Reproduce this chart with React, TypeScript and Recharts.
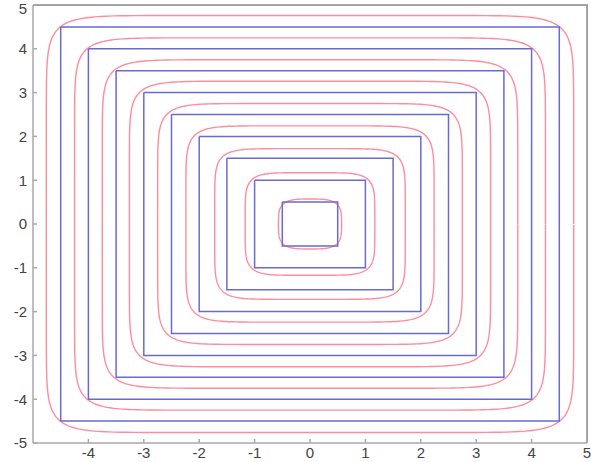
import { ComposedChart, Line, XAxis, YAxis } from "recharts";

// half-widths of the blue squares
const blueSizes = [0.5, 1, 1.5, 2, 2.5, 3, 3.5, 4, 4.5];
// half-widths of the red rounded contours, with their squareness
const redSizes = [0.57, 1.17, 1.72, 2.24, 2.75, 3.26, 3.75, 4.25, 4.76];
const redPower = [3.6, 5.5, 7, 8, 9, 10, 11, 12, 12.5];

const yTicks = [-5, -4, -3, -2, -1, 0, 1, 2, 3, 4, 5];
const xLabelTicks = [-4, -3, -2, -1, 0, 1, 2, 3, 4, 5];

const square = (s: number) => [
    { x: -s, y: s },
    { x: s, y: s },
    { x: s, y: -s },
    { x: -s, y: -s },
    { x: -s, y: s },
];

const rounded = (a: number, n: number) => {
    const pts: { x: number; y: number }[] = [];
    const steps = 240;
    for (let i = 0; i <= steps; i++) {
        const t = (i / steps) * Math.PI * 2;
        const c = Math.cos(t);
        const s = Math.sin(t);
        pts.push({
            x: a * Math.sign(c) * Math.pow(Math.abs(c), 2 / n),
            y: a * Math.sign(s) * Math.pow(Math.abs(s), 2 / n),
        });
    }
    return pts;
};

// top and right edges of the box
const frame = [
    { x: -5, y: 5 },
    { x: 5, y: 5 },
    { x: 5, y: -5 },
];

const axisColor = "#a9a9a9";
const tickStyle = { fill: "#444", fontSize: 15, fontFamily: "Liberation Sans, Arial, sans-serif" };

export default function App() {
    return (
        <div style={{ position: "absolute", left: 0, top: 0, width: 591, height: 462, background: "#fff" }}>
            <ComposedChart width={591} height={462} margin={{ top: 5, right: 4, left: 0, bottom: 0 }}>
                <XAxis
                    dataKey="x"
                    type="number"
                    domain={[-5, 5]}
                    ticks={xLabelTicks}
                    height={19}
                    stroke={axisColor}
                    strokeWidth={1.5}
                    tickSize={-4}
                    tickMargin={8}
                    tick={tickStyle}
                />
                <YAxis
                    type="number"
                    domain={[-5, 5]}
                    ticks={yTicks}
                    width={33}
                    stroke={axisColor}
                    strokeWidth={1.5}
                    tickSize={-4}
                    tickMargin={10}
                    tick={tickStyle}
                />
                <Line data={frame} dataKey="y" dot={false} stroke="#a0a0a0" strokeWidth={2} isAnimationActive={false} />
                {redSizes.map((a, i) => (
                    <Line
                        key={"r" + i}
                        data={rounded(a, redPower[i])}
                        dataKey="y"
                        type="linear"
                        dot={false}
                        activeDot={false}
                        stroke="#ff6f86"
                        strokeOpacity={0.8}
                        strokeWidth={1.4}
                        isAnimationActive={false}
                    />
                ))}
                {blueSizes.map((s, i) => (
                    <Line
                        key={"b" + i}
                        data={square(s)}
                        dataKey="y"
                        type="linear"
                        dot={false}
                        activeDot={false}
                        stroke="#6a6ad4"
                        strokeWidth={1.5}
                        isAnimationActive={false}
                    />
                ))}
            </ComposedChart>
            <div
                style={{
                    position: "absolute",
                    left: 33,
                    top: 4,
                    width: 553,
                    height: 438,
                    borderTop: "1.5px solid #a9a9a9",
                    borderRight: "1.5px solid #a9a9a9",
                    pointerEvents: "none",
                }}
            />
        </div>
    );
}
